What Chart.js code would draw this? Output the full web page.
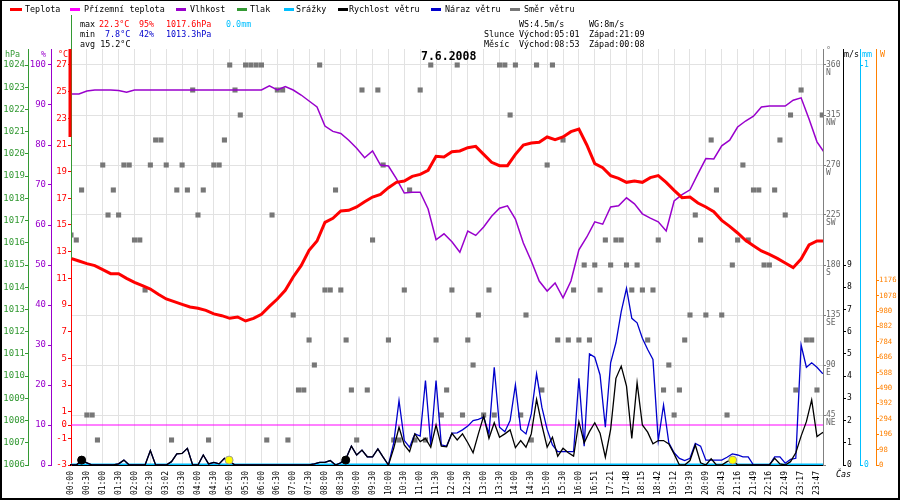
<!DOCTYPE html>
<html>
<head>
<meta charset="utf-8">
<script src="https://cdn.jsdelivr.net/npm/chart.js@4.4.1/dist/chart.umd.min.js"></script>
<style>
  body { margin: 0; background: #fff; }
  #wrap { position: relative; width: 900px; height: 500px; overflow: hidden; }
  #frame { position: absolute; left: 0; top: 0; width: 900px; height: 500px; box-sizing: border-box;
           border: 2px solid #000; border-top-width: 1px; pointer-events: none; }
  .t { position: absolute; font: 8.4px 'DejaVu Sans Mono', monospace; line-height: 10px; white-space: pre; color: #000; }
  .mk { position: absolute; top: 8px; height: 3px; }
  #title { position: absolute; left: 421px; top: 50px; font: bold 11.5px 'DejaVu Sans Mono', monospace; line-height: 12px; }
</style>
</head>
<body>
<div id="wrap">
  <canvas id="chart" width="900" height="500"></canvas>

  <!-- legend -->
  <span class="mk" style="left:10px;width:12px;background:#ff0000"></span><span class="t" style="left:25px;top:4px">Teplota</span>
  <span class="mk" style="left:70px;width:10px;background:#ff00ff"></span><span class="t" style="left:84px;top:4px">Přízemní teplota</span>
  <span class="mk" style="left:176px;width:10px;background:#9900cc"></span><span class="t" style="left:190px;top:4px">Vlhkost</span>
  <span class="mk" style="left:237px;width:10px;background:#339933"></span><span class="t" style="left:250px;top:4px">Tlak</span>
  <span class="mk" style="left:284px;width:10px;background:#00bfff"></span><span class="t" style="left:296px;top:4px">Srážky</span>
  <span class="mk" style="left:338px;width:10px;background:#000000"></span><span class="t" style="left:349px;top:4px">Rychlost větru</span>
  <span class="mk" style="left:431px;width:10px;background:#0000cc"></span><span class="t" style="left:445px;top:4px">Náraz větru</span>
  <span class="mk" style="left:510px;width:10px;background:#777777"></span><span class="t" style="left:524px;top:4px">Směr větru</span>

  <!-- day statistics -->
  <span class="t" style="left:80px;top:19px">max</span>
  <span class="t" style="left:99px;top:19px;color:#ff0000">22.3°C</span>
  <span class="t" style="left:139px;top:19px;color:#ff0000">95%</span>
  <span class="t" style="left:166px;top:19px;color:#ff0000">1017.6hPa</span>
  <span class="t" style="left:226px;top:19px;color:#00bfff">0.0mm</span>
  <span class="t" style="left:80px;top:29px">min</span>
  <span class="t" style="left:105px;top:29px;color:#0000cc">7.8°C</span>
  <span class="t" style="left:139px;top:29px;color:#0000cc">42%</span>
  <span class="t" style="left:166px;top:29px;color:#0000cc">1013.3hPa</span>
  <span class="t" style="left:80px;top:39px">avg 15.2°C</span>

  <span class="t" style="left:519px;top:19px">WS:4.5m/s</span>
  <span class="t" style="left:589px;top:19px">WG:8m/s</span>
  <span class="t" style="left:484px;top:29px">Slunce</span>
  <span class="t" style="left:519px;top:29px">Východ:05:01</span>
  <span class="t" style="left:589px;top:29px">Západ:21:09</span>
  <span class="t" style="left:484px;top:39px">Měsíc</span>
  <span class="t" style="left:519px;top:39px">Východ:08:53</span>
  <span class="t" style="left:589px;top:39px">Západ:00:08</span>

  <div id="title">7.6.2008</div>

  <!-- axis units -->
  <span class="t" style="left:5px;top:49px;color:#339933">hPa</span>
  <span class="t" style="left:41px;top:49px;color:#9900cc">%</span>
  <span class="t" style="left:58px;top:49px;color:#ff0000">°C</span>
  <span class="t" style="left:826px;top:45px;color:#777777">°</span>
  <span class="t" style="left:844px;top:49px">m/s</span>
  <span class="t" style="left:862px;top:49px;color:#00bfff">mm</span>
  <span class="t" style="left:880px;top:49px;color:#ff8000">W</span>
  <span class="t" style="left:836px;top:469px;font-style:italic">Čas</span>

  <div id="frame"></div>
</div>

<script>
// x axis labels (one every 6 samples, times are not evenly spaced)
const timeLabels = ['00:00','00:30','01:00','01:30','02:00','02:30','03:02','03:30','04:00','04:30',
  '05:00','05:30','06:00','06:30','07:00','07:30','08:00','08:30','09:00','09:30',
  '10:00','10:30','11:00','11:30','12:00','12:30','13:00','13:30','14:00','14:30',
  '15:00','15:30','16:00','16:51','17:21','17:48','18:15','18:42','19:12','19:39',
  '20:09','20:43','21:16','21:49','22:16','22:49','23:17','23:47'];

// temperature and humidity, one value every half label step
const tempStep = 0.5;
const temperature = [12.5,12.3,12.1,11.95,11.65,11.35,11.35,11.0,10.7,10.45,
  10.2,9.8,9.45,9.25,9.05,8.85,8.75,8.6,8.33,8.2,
  8.0,8.1,7.8,8.0,8.3,8.9,9.45,10.1,11.1,11.95,
  13.1,13.8,15.2,15.5,16.05,16.1,16.35,16.75,17.1,17.3,
  17.8,18.2,18.3,18.65,18.8,19.1,20.15,20.1,20.5,20.55,
  20.8,20.9,20.3,19.7,19.45,19.45,20.3,21.0,21.15,21.2,
  21.6,21.4,21.6,22.0,22.2,21.0,19.6,19.3,18.7,18.5,
  18.2,18.3,18.2,18.55,18.7,18.2,17.6,17.05,17.1,16.65,
  16.35,16.0,15.35,14.9,14.4,13.85,13.45,13.05,12.8,12.5,
  12.15,11.8,12.45,13.5,13.8,13.8];
const humidity = [92.75,92.75,93.5,93.75,93.75,93.75,93.6,93.2,93.75,93.75,
  93.75,93.75,93.75,93.75,93.75,93.75,93.75,93.75,93.75,93.75,
  93.75,93.75,93.75,93.75,93.75,94.8,93.75,94.6,93.75,92.5,
  91,89.5,84.75,83.4,82.9,81.2,79.2,76.8,78.5,75,
  74.75,71.6,68,68.2,68.2,64,56.3,57.8,55.8,53.2,
  58.5,57.4,59.5,62.2,64.2,64.8,61.5,55.5,51,46,
  43.5,45.5,41.8,46,53.8,57,60.8,60.2,64.5,64.8,
  66.8,65.3,62.8,61.7,60.8,58.5,66,67.6,68.8,72.8,
  76.6,76.5,79.8,81.2,84.5,86,87.2,89.5,89.75,89.75,
  89.75,91.2,91.8,86.5,80.8,77.9];

// wind, direction and rain, one value every third of a label step
const windStep = 1 / 3;
const windSpeed = [0,0,0.2,0.1,0,0,0,0,0,0.05,
  0.22,0,0,0,0,0.65,0,0,0,0.15,
  0.5,0.52,0.75,0,0,0.45,0.05,0.12,0.05,0.3,
  0.15,0,0,0,0,0,0,0,0,0,
  0,0,0,0,0,0,0.05,0.12,0.12,0.2,
  0,0.1,0.3,0.85,0.45,0.67,0.37,0.37,0.72,0.35,
  0,0.75,1.7,0.9,0.6,1.4,1.05,1.2,0.8,1.8,
  0.85,0.82,1.43,1.13,1.4,1.0,0.55,1.4,2.2,1.2,
  1.9,1.25,1.4,1.58,0.78,1.1,0.8,1.4,2.95,1.8,
  0.8,1.25,0.4,0.75,0.55,0.4,1.95,1.0,1.5,1.9,
  1.43,0.35,1.6,3.9,4.45,3.55,1.2,3.7,1.8,1.48,
  0.95,1.1,1.1,0.95,0.5,0,0,0.2,0.9,0.1,
  0,0.28,0,0,0.15,0.25,0,0,0,0,
  0,0,0,0.3,0.05,0,0.15,0.55,1.3,1.95,
  2.93,1.28,1.45,1.55];
const windGust = [0,0,0.2,0.1,0,0,0,0,0,0.05,
  0.22,0,0,0,0,0.65,0,0,0,0.15,
  0.5,0.52,0.75,0,0,0.45,0.05,0.12,0.05,0.3,
  0.15,0,0,0,0,0,0,0,0,0,
  0,0,0,0,0,0,0.05,0.12,0.12,0.2,
  0,0.1,0.3,0.85,0.45,0.67,0.37,0.37,0.72,0.35,
  0,1.0,2.9,1.1,0.8,1.4,1.3,3.8,0.9,3.8,
  0.9,0.85,1.43,1.45,1.58,1.75,2.0,2.05,2.15,1.4,
  4.4,1.7,1.5,2.0,3.6,1.6,1.4,2.3,4.1,2.6,
  1.6,0.9,0.6,0.6,0.6,0.6,3.9,0.85,5.0,4.85,
  4.05,1.7,4.6,5.5,6.9,7.95,6.6,6.4,5.7,5.2,
  4.75,1.1,2.7,1.0,0.55,0.3,0.2,0.3,0.97,0.85,
  0.22,0.22,0.22,0.22,0.35,0.5,0.45,0.37,0.37,0,
  0,0,0,0.37,0.37,0.08,0.25,0.3,5.4,4.4,
  4.6,4.4,4.13,4.1];
const windDir = [207,202.5,247.5,45,45,22.5,270,225,247.5,225,
  270,270,202.5,202.5,157.5,270,292.5,292.5,270,22.5,
  247.5,270,247.5,337.5,225,247.5,22.5,270,270,292.5,
  360,337.5,315,360,360,360,360,22.5,225,337.5,
  337.5,22.5,135,67.5,67.5,112.5,90,360,157.5,157.5,
  247.5,157.5,112.5,67.5,22.5,337.5,67.5,202.5,337.5,270,
  112.5,22.5,22.5,157.5,247.5,22.5,337.5,22.5,360,112.5,
  45,67.5,157.5,360,45,112.5,90,135,45,157.5,
  45,360,360,315,360,45,135,22.5,360,67.5,
  270,360,112.5,292.5,112.5,157.5,112.5,180,112.5,180,
  157.5,202.5,180,202.5,202.5,180,157.5,180,157.5,112.5,
  157.5,202.5,67.5,90,45,67.5,112.5,135,225,202.5,
  135,292.5,247.5,135,45,180,202.5,270,202.5,247.5,
  247.5,180,180,247.5,292.5,225,315,67.5,337.5,112.5,
  112.5,67.5,315,null];
const rain = [0,0];
const rainPos = [0, 47.5];
const groundTemp = [0,0];

// sun and moon events, position in label steps
const sunEvents = [9.96, 41.69];
const moonEvents = [0.67, 17.31];
const eventLevel = 0.22;

// axis ticks
const tempTicks = [-3,-1,0,1,3,5,7,9,11,13,15,17,19,21,23,25,27];
const dirNames = ['', 'NE', 'E', 'SE', 'S', 'SW', 'W', 'NW', 'N'];
const wattTicks = [0,98,196,294,392,490,588,686,784,882,980,1078,1176];

function series(values, step) {
  return values.map((v, i) => ({ x: i * step, y: v }));
}
function points(xs, y) {
  return xs.map(x => ({ x: x, y: y }));
}
function fixedTicks(list) {
  return (scale) => { scale.ticks = list.map(v => ({ value: v })); };
}
function range(a, b, s) {
  const out = [];
  for (let v = a; v <= b + 1e-9; v += s) out.push(Math.round(v * 100) / 100);
  return out;
}
function width(w) {
  return (scale) => { scale.width = w; };
}

const mono = 'DejaVu Sans Mono';

function sideAxis(pos, min, max, color, w, ticks, size, pad, extra) {
  return Object.assign({
    type: 'linear', position: pos, min: min, max: max,
    afterBuildTicks: fixedTicks(ticks),
    afterFit: width(w),
    border: { color: color, width: 1 },
    grid: { drawOnChartArea: false, color: color, tickLength: 3 },
    ticks: { color: color, font: { family: mono, size: size }, padding: pad, autoSkip: false,
             callback: (v) => String(v) }
  }, extra || {});
}

// green / red marks on the temperature axis
const axisMarks = {
  id: 'axisMarks',
  afterDraw(chart) {
    const c = chart.ctx, left = chart.chartArea.left, y = chart.scales.C;
    c.save();
    c.strokeStyle = '#339933';
    c.lineWidth = 1;
    c.beginPath();
    c.moveTo(left + 0.5, 15);
    c.lineTo(left + 0.5, y.getPixelForValue(temperature[0]));
    c.stroke();
    c.strokeStyle = '#ff0000';
    c.lineWidth = 3;
    c.beginPath();
    c.moveTo(left - 1, chart.chartArea.top);
    c.lineTo(left - 1, y.getPixelForValue(21.6));
    c.stroke();
    c.restore();
  }
};

const ctx = document.getElementById('chart').getContext('2d');
const chart = new Chart(ctx, {
  type: 'line',
  data: {
    datasets: [
      { label: 'Východ / západ Slunce', data: points(sunEvents, eventLevel), yAxisID: 'ms', showLine: false,
        pointRadius: 4, pointBackgroundColor: '#ffff00', pointBorderColor: '#999999', pointBorderWidth: 1 },
      { label: 'Východ / západ Měsíce', data: points(moonEvents, eventLevel), yAxisID: 'ms', showLine: false,
        pointRadius: 4, pointBackgroundColor: '#000000', pointBorderColor: '#000000', pointBorderWidth: 1 },
      { label: 'Rychlost větru', data: series(windSpeed, windStep), yAxisID: 'ms',
        borderColor: '#000000', borderWidth: 1.3, pointRadius: 0 },
      { label: 'Náraz větru', data: series(windGust, windStep), yAxisID: 'ms',
        borderColor: '#0000cc', borderWidth: 1.3, pointRadius: 0 },
      { label: 'Teplota', data: series(temperature, tempStep), yAxisID: 'C',
        borderColor: '#ff0000', borderWidth: 3, pointRadius: 0 },
      { label: 'Vlhkost', data: series(humidity, tempStep), yAxisID: 'pct',
        borderColor: '#9900cc', borderWidth: 1.5, pointRadius: 0 },
      { label: 'Směr větru', data: series(windDir, windStep), yAxisID: 'dir', showLine: false,
        pointStyle: 'rect', pointRadius: 3.6, pointBorderWidth: 0,
        pointBackgroundColor: '#777777', pointBorderColor: '#777777' },
      { label: 'Přízemní teplota', data: rainPos.map((x, i) => ({ x: x, y: groundTemp[i] })), yAxisID: 'C',
        borderColor: '#ff00ff', borderWidth: 1, pointRadius: 0 },
      { label: 'Srážky', data: rainPos.map((x, i) => ({ x: x, y: rain[i] })), yAxisID: 'mm',
        borderColor: '#00bfff', borderWidth: 3, pointRadius: 0 }
    ]
  },
  options: {
    responsive: false,
    animation: false,
    events: [],
    layout: { padding: { top: 49, left: 0, right: 0, bottom: 0 } },
    elements: { line: { tension: 0 } },
    plugins: { legend: { display: false }, tooltip: { enabled: false }, title: { display: false } },
    scales: {
      x: {
        type: 'linear', position: 'bottom', min: 0, max: 47.38,
        afterFit: (scale) => { scale.height = 35; },
        border: { color: '#000000', width: 2 },
        grid: { color: '#e2e2e2', drawTicks: false },
        ticks: {
          stepSize: 1, autoSkip: false, includeBounds: false, maxRotation: 90, minRotation: 90,
          padding: 6, color: '#000000', font: { family: mono, size: 8 },
          callback: (v) => timeLabels[v] ?? ''
        }
      },
      C: sideAxis('left', -3, 28.2, '#ff0000', 20, tempTicks, 9, 1),
      pct: sideAxis('left', 0, 104, '#9900cc', 23, range(0, 100, 10), 9, 2),
      hPa: sideAxis('left', 1006, 1024.72, '#339933', 28, range(1006, 1024, 1), 9, 0),
      dir: sideAxis('right', 0, 374.4, '#808080', 20, range(0, 360, 45), 8, 0, {
        grid: { drawOnChartArea: true, color: '#e2e2e2', tickColor: '#808080', tickLength: 3 },
        ticks: {
          color: '#666666', font: { family: mono, size: 8, lineHeight: 1.05 }, padding: 0,
          labelOffset: 4.2, autoSkip: false,
          callback: (v) => v === 0 ? '' : [String(v), dirNames[v / 45]]
        }
      }),
      ms: sideAxis('right', 0, 18.72, '#000000', 17, range(0, 9, 1), 8, 1),
      mm: sideAxis('right', 0, 1.04, '#00bfff', 16, [0, 1], 8, 1),
      W: sideAxis('right', 0, 2649, '#ff8000', 24, wattTicks, 7.3, 0)
    }
  },
  plugins: [axisMarks]
});
</script>
</body>
</html>
